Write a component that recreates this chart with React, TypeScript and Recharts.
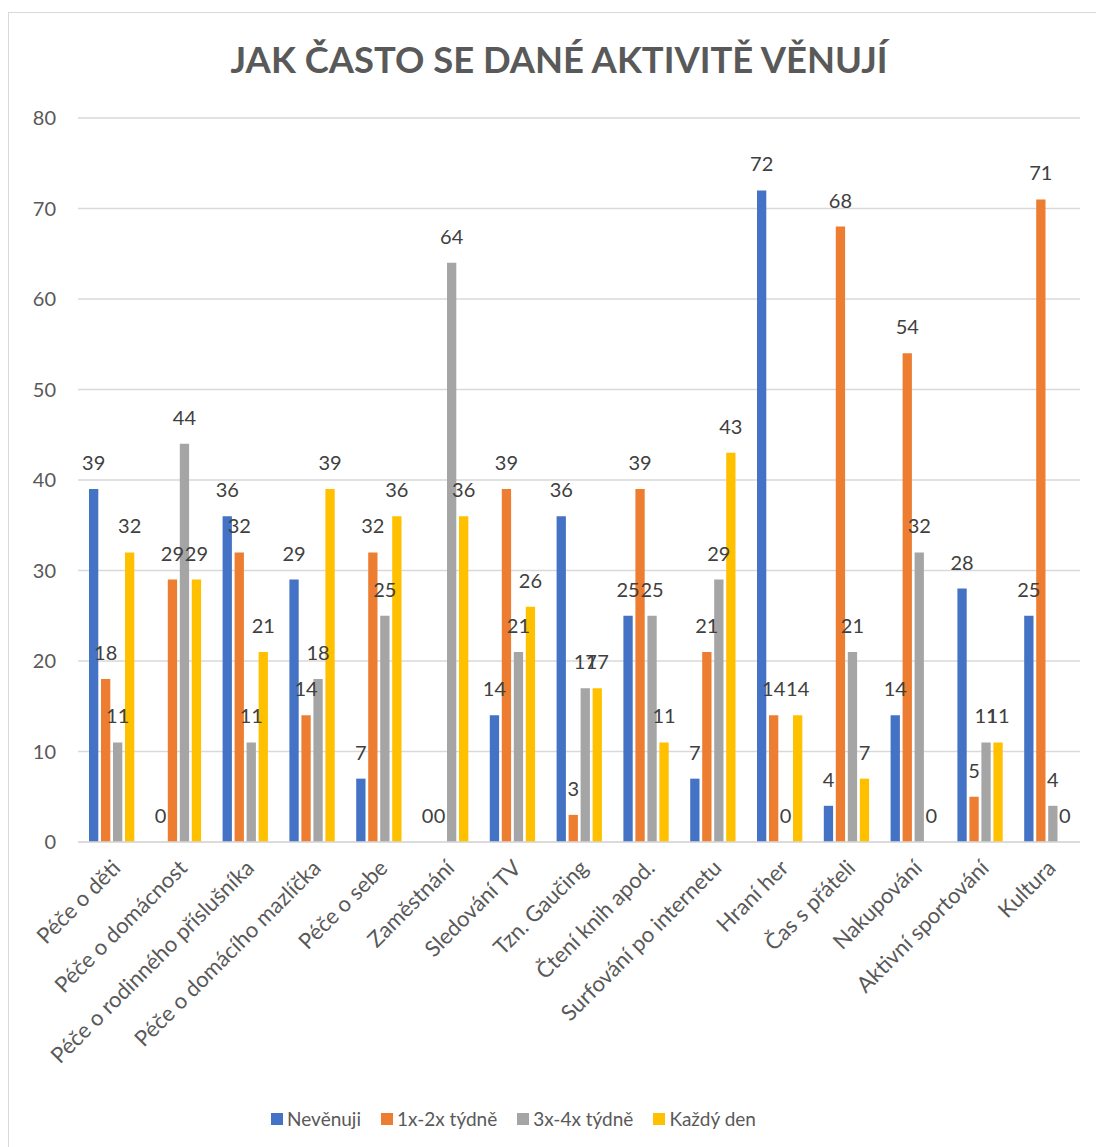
import React from 'react';
import { BarChart, Bar, XAxis, YAxis, CartesianGrid, LabelList, Legend } from 'recharts';

const categories = [
  'Péče o děti',
  'Péče o domácnost',
  'Péče o rodinného příslušníka',
  'Péče o domácího mazlíčka',
  'Péče o sebe',
  'Zaměstnání',
  'Sledování TV',
  'Tzn. Gaučing',
  'Čtení knih apod.',
  'Surfování po internetu',
  'Hraní her',
  'Čas s přáteli',
  'Nakupování',
  'Aktivní sportování',
  'Kultura',
];

const nevenuji = [39, 0, 36, 29, 7, 0, 14, 36, 25, 7, 72, 4, 14, 28, 25];
const tydne12 = [18, 29, 32, 14, 32, 0, 39, 3, 39, 21, 14, 68, 54, 5, 71];
const tydne34 = [11, 44, 11, 18, 25, 64, 21, 17, 25, 29, 0, 21, 32, 11, 4];
const kazdyDen = [32, 29, 21, 39, 36, 36, 26, 17, 11, 43, 14, 7, 0, 11, 0];

const seriesNames = ['Nevěnuji', '1x-2x týdně', '3x-4x týdně', 'Každý den'];
const seriesColors = ['#4472C4', '#ED7D31', '#A5A5A5', '#FFC000'];
const yTicks = [0, 10, 20, 30, 40, 50, 60, 70, 80];
const title = 'JAK ČASTO SE DANÉ AKTIVITĚ VĚNUJÍ';

const data = categories.map((c, i) => ({
  name: c,
  s0: nevenuji[i],
  s1: tydne12[i],
  s2: tydne34[i],
  s3: kazdyDen[i],
}));

const FONT = 'Lato, "Open Sans", sans-serif';

const CatTick = (props: any) => {
  const { x, y, payload } = props;
  return (
    <g transform={`translate(${x + 5},${y + 20})`}>
      <text
        textAnchor="end"
        transform="rotate(-45)"
        fill="#595959"
        fontSize={22}
        fontFamily={FONT}
        dy="0.35em"
      >
        {payload.value}
      </text>
    </g>
  );
};

const LegendContent = () => (
  <div
    style={{
      display: 'flex',
      justifyContent: 'center',
      alignItems: 'center',
      fontFamily: FONT,
      fontSize: 19,
      color: '#595959',
      marginLeft: -53,
    }}
  >
    {seriesNames.map((n, i) => (
      <div key={n} style={{ display: 'flex', alignItems: 'center', marginRight: i < 3 ? 20 : 0 }}>
        <div style={{ width: 12, height: 12, background: seriesColors[i], marginRight: 4 }} />
        <span>{n}</span>
      </div>
    ))}
  </div>
);

export default function App() {
  return (
    <div style={{ position: 'absolute', left: 0, top: 0, width: 1096, height: 1147, overflow: 'hidden', background: '#fff' }}>
      <div
        style={{
          position: 'absolute',
          left: 8,
          top: 12,
          width: 1200,
          height: 1300,
          borderLeft: '1.5px solid #d9d9d9',
          borderTop: '1.5px solid #d9d9d9',
        }}
      />
      <div
        style={{
          position: 'absolute',
          left: 0,
          width: 1118,
          top: 37,
          textAlign: 'center',
          fontFamily: FONT,
          fontWeight: 700,
          fontSize: 36.4,
          color: '#595959',
        }}
      >
        {title}
      </div>
      <div style={{ position: 'absolute', left: 0, top: 0 }}>
        <BarChart
          width={1096}
          height={1147}
          data={data}
          margin={{ top: 118, right: 16, left: 0, bottom: 0 }}
          barSize={9.3}
          barGap={2.7}
        >
          <CartesianGrid vertical={false} stroke="#d9d9d9" strokeWidth={1.5} />
          <XAxis
            dataKey="name"
            interval={0}
            tick={<CatTick />}
            tickLine={false}
            axisLine={{ stroke: '#d9d9d9', strokeWidth: 1.5 }}
            tickSize={0}
            height={265}
          />
          <YAxis
            domain={[0, 80]}
            ticks={yTicks}
            width={78}
            axisLine={false}
            tickLine={false}
            tickSize={0}
            tickMargin={22}
            tick={{ fill: '#595959', fontSize: 20, fontFamily: FONT }}
          />
          <Legend
            verticalAlign="bottom"
            content={<LegendContent />}
            wrapperStyle={{ height: 40, marginTop: -7 }}
          />
          {['s0', 's1', 's2', 's3'].map((k, i) => (
            <Bar
              key={k}
              dataKey={k}
              name={seriesNames[i]}
              fill={seriesColors[i]}
              minPointSize={0.01}
              isAnimationActive={false}
            >
              <LabelList
                dataKey={k}
                position="top"
                offset={19}
                fill="#404040"
                fontSize={20}
                fontFamily={FONT}
              />
            </Bar>
          ))}
        </BarChart>
      </div>
    </div>
  );
}
